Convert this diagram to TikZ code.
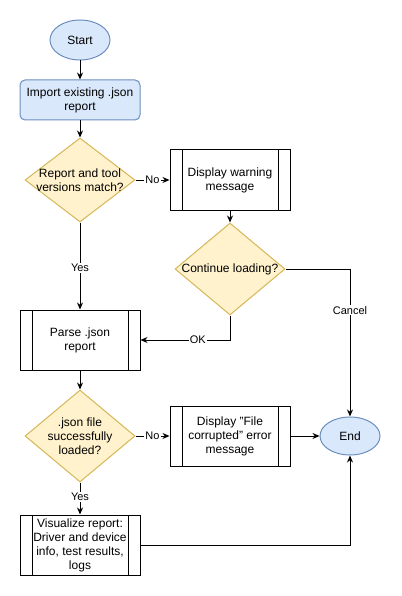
\documentclass[tikz,border=0pt]{standalone}
\usepackage{fontspec}
\setmainfont{Liberation Sans}
\usetikzlibrary{shapes.geometric,arrows.meta}

\definecolor{termfill}{HTML}{DAE8FC}
\definecolor{termline}{HTML}{6C8EBF}
\definecolor{decfill}{HTML}{FFF2CC}
\definecolor{decline}{HTML}{D6B656}

\tikzset{
    txt/.style={font=\fontsize{12}{14}\selectfont, align=center},
    terminal/.style={txt, ellipse, draw=termline, fill=termfill, minimum width=60pt, minimum height=40pt, inner sep=0pt},
    startbox/.style={txt, rectangle, rounded corners=5pt, draw=termline, fill=termfill, minimum width=120pt, minimum height=40pt},
    decision/.style={txt, diamond, draw=decline, fill=decfill, minimum width=110pt, minimum height=90pt, inner sep=-14pt},
    subproc/.style={txt, rectangle, draw, minimum width=120pt, minimum height=60pt,
        path picture={
            \draw ([xshift=12pt]path picture bounding box.north west) -- ([xshift=12pt]path picture bounding box.south west);
            \draw ([xshift=-12pt]path picture bounding box.north east) -- ([xshift=-12pt]path picture bounding box.south east);
        }},
    edgelabel/.style={font=\fontsize{11}{13}\selectfont, fill=white, inner sep=1pt},
    flow/.style={-{Stealth[length=7pt,width=6pt]}}
}

\begin{document}
\begin{tikzpicture}[x=1pt, y=-1pt, line width=1pt]
        \useasboundingbox (0,0) rectangle (401,596);

        \node[terminal] (start) at (80,40) {Start};
        \node[startbox] (import) at (80,100) {Import existing .json\\report};
        \node[decision, minimum height=84pt] (match) at (80,180) {Report and tool\\versions match?};
        \node[subproc] (warn) at (230,180) {Display warning\\message};
        \node[decision, minimum height=92pt] (cont) at (230,269) {Continue loading?};
        \node[subproc] (parse) at (80,340) {Parse .json\\report};
        \node[decision, minimum height=92pt] (loaded) at (80,436) {.json file\\successfully\\loaded?};
        \node[subproc] (corrupt) at (230,436) {Display "File\\corrupted" error\\message};
        \node[terminal, minimum height=38pt] (end) at (350,436) {End};
        \node[subproc] (vis) at (80,545) {Visualize report:\\Driver and device\\info, test results,\\logs};

        \draw[flow] (start) -- (import);
        \draw[flow] (import) -- (match);
        \draw[flow] (match) -- node[edgelabel] {No} (warn);
        \draw[flow] (warn) -- (cont);
        \draw[flow] (match) -- node[edgelabel, pos=0.52] {Yes} (parse);
        \draw[flow] (cont.east) -| node[edgelabel, pos=0.64] {Cancel} (end.north);
        \draw[flow] (cont.south) |- node[edgelabel, pos=0.68] {OK} (parse.east);
        \draw[flow] (parse) -- (loaded);
        \draw[flow] (loaded) -- node[edgelabel] {No} (corrupt);
        \draw[flow] (loaded) -- node[edgelabel, pos=0.45] {Yes} (vis);
        \draw[flow] (corrupt) -- (end);
        \draw[flow] (vis.east) -| (end.south);
    \end{tikzpicture}
\end{document}
